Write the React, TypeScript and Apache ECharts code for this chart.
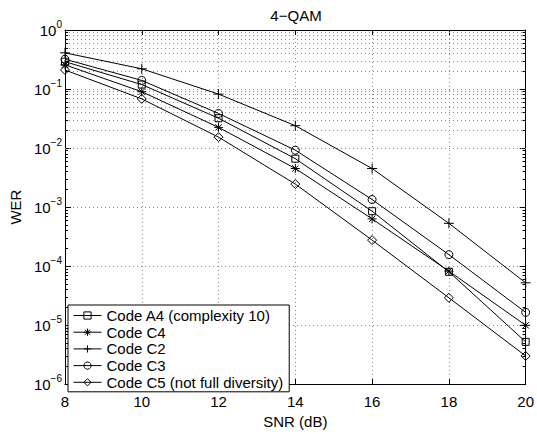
import React, { useEffect, useRef } from "react";
import * as echarts from "echarts";

const snr = [8, 10, 12, 14, 16, 18, 20];
const codeA4 = [0.29, 0.119, 0.032, 0.0066, 0.00085, 0.00008, 0.0000052];
const codeC4 = [0.257, 0.09, 0.0224, 0.0045, 0.00063, 0.000082, 0.0000099];
const codeC2 = [0.41, 0.22, 0.082, 0.0239, 0.0045, 0.00053, 0.000052];
const codeC3 = [0.32, 0.14, 0.0385, 0.0092, 0.00134, 0.000156, 0.0000164];
const codeC5 = [0.21, 0.068, 0.0153, 0.00245, 0.000275, 0.000029, 0.000003];
const seriesNames = [
  "Code A4 (complexity 10)",
  "Code C4",
  "Code C2",
  "Code C3",
  "Code C5 (not full diversity)",
];
const yMin = 1e-6;
const yMax = 1;
const xMin = 8;
const xMax = 20;

const FONT = "'Liberation Sans', Arial, Helvetica, sans-serif";
const PLUS = "path://M5 0L5 10M0 5L10 5";
const STAR = "path://M5 0L5 10M0 5L10 5M1.5 1.5L8.5 8.5M8.5 1.5L1.5 8.5";

export default function App() {
  const ref = useRef<HTMLDivElement>(null);
  useEffect(() => {
    if (!ref.current) return;
    const chart = echarts.init(ref.current, null, { renderer: "svg" });
    const gridStyle = { color: "#8a8a8a", width: 1, type: [1, 3] as any };

    const minorVals: number[] = [];
    for (let d = -6; d < 0; d++) {
      for (let m = 2; m <= 9; m++) minorVals.push(m * Math.pow(10, d));
    }
    const minorGrid = minorVals.map((v) => ({ yAxis: v }));
    const minorTicks: any[] = [];
    minorVals.forEach((v) => {
      minorTicks.push([{ coord: [xMin, v] }, { coord: [xMin + 0.08, v] }]);
      minorTicks.push([{ coord: [xMax - 0.08, v] }, { coord: [xMax, v] }]);
    });

    const symbols = ["rect", STAR, PLUS, "circle", "diamond"];
    const sizes = [7, 9, 10, 8, 9];
    const datas = [codeA4, codeC4, codeC2, codeC3, codeC5];

    const lineSeries = datas.map((d, i) => ({
      name: seriesNames[i],
      type: "line",
      data: d.map((v, j) => [snr[j], v]),
      symbol: symbols[i],
      symbolSize: sizes[i],
      showAllSymbol: true,
      lineStyle: { color: "#000", width: 1 },
      itemStyle: { color: "none", borderColor: "#000", borderWidth: 1 },
      z: 5,
    }));

    const expLabel = (v: number) => {
      const e = Math.round(Math.log10(v));
      const s = e < 0 ? "\u2212" + Math.abs(e) : String(e);
      return "{b|10}{s|" + s + "}";
    };

    chart.setOption({
      animation: false,
      backgroundColor: "#fff",
      textStyle: { fontFamily: FONT, color: "#000" },
      grid: { left: 64, right: 8, top: 30, bottom: 41, containLabel: false },
      graphic: [
        {
          type: "text",
          x: 296,
          y: 15,
          style: {
            text: "4\u2212QAM",
            fontFamily: FONT,
            fontSize: 15,
            fill: "#000",
            textAlign: "center",
            textVerticalAlign: "middle",
          },
        },
      ],
      legend: {
        data: seriesNames,
        orient: "vertical",
        left: 68,
        top: 305,
        backgroundColor: "#fff",
        borderColor: "#000",
        borderWidth: 1,
        borderRadius: 0,
        padding: [3, 6, 2, 5],
        itemGap: 1.7,
        itemWidth: 28,
        itemHeight: 9,
        lineStyle: { width: 1, color: "#000" },
        itemStyle: { color: "none", borderColor: "#000", borderWidth: 1 },
        textStyle: { fontFamily: FONT, fontSize: 15, color: "#000", lineHeight: 15 },
        selectedMode: false,
        z: 10,
      },
      xAxis: [
        {
          type: "value",
          min: xMin,
          max: xMax,
          interval: 2,
          position: "bottom",
          name: "SNR (dB)",
          nameLocation: "middle",
          nameGap: 25,
          nameTextStyle: { fontFamily: FONT, fontSize: 15, color: "#000" },
          axisLine: { show: true, lineStyle: { color: "#000", width: 1 } },
          axisTick: { show: true, inside: true, length: 5, lineStyle: { color: "#000" } },
          axisLabel: { fontFamily: FONT, fontSize: 15, color: "#000", margin: 10 },
          splitLine: { show: true, lineStyle: gridStyle },
        },
        {
          type: "value",
          min: xMin,
          max: xMax,
          interval: 2,
          position: "top",
          axisLine: { show: true, lineStyle: { color: "#000", width: 1 } },
          axisTick: { show: true, inside: true, length: 5, lineStyle: { color: "#000" } },
          axisLabel: { show: false },
          splitLine: { show: false },
        },
      ],
      yAxis: [
        {
          type: "log",
          logBase: 10,
          min: yMin,
          max: yMax,
          interval: 1,
          position: "left",
          name: "WER",
          nameLocation: "middle",
          nameGap: 40,
          nameTextStyle: { fontFamily: FONT, fontSize: 15, color: "#000" },
          axisLine: { show: true, lineStyle: { color: "#000", width: 1 } },
          axisTick: { show: true, inside: true, length: 6, lineStyle: { color: "#000" } },
          axisLabel: {
            margin: 3,
            formatter: expLabel,
            rich: {
              b: { fontFamily: FONT, fontSize: 15, color: "#000" },
              s: { fontFamily: FONT, fontSize: 10, color: "#000", padding: [0, 0, 11, 0] },
            },
          },
          splitLine: { show: true, lineStyle: gridStyle },
        },
        {
          type: "log",
          logBase: 10,
          min: yMin,
          max: yMax,
          interval: 1,
          position: "right",
          axisLine: { show: true, lineStyle: { color: "#000", width: 1 } },
          axisTick: { show: true, inside: true, length: 6, lineStyle: { color: "#000" } },
          axisLabel: { show: false },
          splitLine: { show: false },
        },
      ],
      series: [
        {
          name: "minor-grid",
          type: "line",
          data: [],
          silent: true,
          z: 1,
          markLine: {
            silent: true,
            symbol: ["none", "none"],
            label: { show: false },
            lineStyle: gridStyle,
            data: minorGrid,
          },
        },
        {
          name: "minor-ticks",
          type: "line",
          data: [],
          silent: true,
          z: 2,
          markLine: {
            silent: true,
            symbol: ["none", "none"],
            label: { show: false },
            lineStyle: { color: "#000", width: 1, type: "solid" },
            data: minorTicks,
          },
        },
        ...lineSeries,
      ],
    });
    return () => chart.dispose();
  }, []);
  return (
    <div
      ref={ref}
      style={{ position: "absolute", left: 0, top: 0, width: 537, height: 434 }}
    />
  );
}
